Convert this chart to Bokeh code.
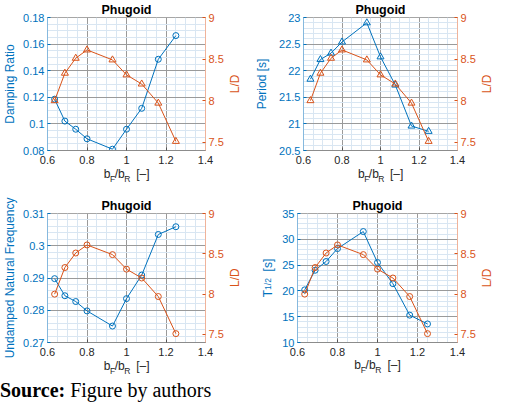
from math import pi
from bokeh.plotting import figure
from bokeh.models import Range1d, LinearAxis, FixedTicker, CustomJSTickFormatter, Div
from bokeh.layouts import column, row
from bokeh.embed import file_html
from bokeh.resources import INLINE

BLUE = "#0072BD"
ORANGE = "#D95319"
FONT = "Liberation Sans"

# ---- data ----
bf_br = [0.636, 0.688, 0.743, 0.8, 0.929, 1.0, 1.077, 1.161, 1.25]
lift_drag = [8.0, 8.33, 8.51, 8.61, 8.49, 8.31, 8.2, 7.97, 7.51]
damping_ratio = [0.1186, 0.1021, 0.0960, 0.0888, 0.0810, 0.0960, 0.1117, 0.1486, 0.1664]
period_s = [21.84, 22.21, 22.33, 22.54, 22.90, 22.26, 21.73, 20.96, 20.86]
nat_freq = [0.2898, 0.2845, 0.2827, 0.2798, 0.2751, 0.2836, 0.2909, 0.3035, 0.3059]
t_half = [20.2, 24.0, 25.7, 28.2, 31.5, 25.5, 21.4, 15.3, 13.6]

x_ticks = [0.6, 0.8, 1.0, 1.2, 1.4]
x_minor = [0.65, 0.7, 0.75, 0.85, 0.9, 0.95, 1.05, 1.1, 1.15, 1.25, 1.3, 1.35]
ld_ticks = [7.5, 8.0, 8.5, 9.0]
damping_ticks = [0.08, 0.10, 0.12, 0.14, 0.16, 0.18]
period_ticks = [20.5, 21.0, 21.5, 22.0, 22.5, 23.0]
freq_ticks = [0.27, 0.28, 0.29, 0.30, 0.31]
thalf_ticks = [10, 15, 20, 25, 30, 35]

TITLE = "Phugoid"
RIGHT_LABEL = "L/D"
XLABEL = [("b", 12, False), ("F", 8.5, True), ("/b", 12, False), ("R", 8.5, True), ("  [–]", 12, False)]
THALF_LABEL = [("T", 12, False), ("1/2", 8.5, True), ("  [s]", 12, False)]

# Arial / Liberation Sans advance widths (em)
CW = {"b": .556, "F": .611, "/": .278, "R": .722, " ": .278, "[": .278, "–": .556,
      "]": .278, "T": .611, "1": .556, "2": .556, "s": .5, "L": .556, "D": .722}


def text_w(t, size):
    return sum(CW.get(c, .556) for c in t) * size


def minors(ticks, n):
    step = (ticks[1] - ticks[0]) / n
    return [ticks[i] + k * step for i in range(len(ticks) - 1) for k in range(1, n)]


def piece_centers(pieces):
    """pixel centres (relative to the middle of the whole label) of main / sub pieces"""
    total = sum(text_w(t, s) for t, s, _ in pieces)
    cum = -total / 2
    main, sub = [], []
    for t, s, is_sub in pieces:
        core = t.strip()
        lead = text_w(t[:len(t) - len(t.lstrip())], s)
        c = cum + lead + text_w(core, s) / 2
        (sub if is_sub else main).append((c, core))
        cum += text_w(t, s)
    return main, sub


fmt_js = "return String(Math.round(tick*10000)/10000);"
lab_js = "return labels[index];"


def text_axis(ticks, labels, size, color, standoff, orientation=None):
    ax = LinearAxis(ticker=FixedTicker(ticks=ticks),
                    formatter=CustomJSTickFormatter(args=dict(labels=labels), code=lab_js))
    ax.axis_line_color = None
    ax.major_tick_line_color = None
    ax.minor_tick_line_color = None
    ax.major_tick_in = 0
    ax.major_tick_out = 0
    ax.minor_tick_in = 0
    ax.minor_tick_out = 0
    ax.major_label_text_font = FONT
    ax.major_label_text_font_size = f"{size}px"
    ax.major_label_text_color = color
    ax.major_label_standoff = standoff
    if orientation is not None:
        ax.major_label_orientation = orientation
    return ax


def panel(width, height, mb, frame_w, frame_h, ylim, yticks, nminor, yvals, lmarker, rmarker,
          ylabel, ylabel_standoff, xl_standoffs, ld_range=(7.4, 9.0)):
    mbl, mbr, mbt, mbb = mb
    p = figure(width=width, height=height, x_range=Range1d(0.6, 1.4),
               y_range=Range1d(*ylim), output_backend="svg", toolbar_location=None,
               title=TITLE, min_border_left=mbl, min_border_right=mbr,
               min_border_top=mbt, min_border_bottom=mbb)
    p.title.align = "center"
    p.title.text_font = FONT
    p.title.text_font_size = "12.5px"
    p.title.text_font_style = "bold"
    p.title.text_color = "#000000"
    p.title.standoff = 1
    p.background_fill_color = "white"
    p.border_fill_color = "white"
    p.outline_line_color = "#a6a6a6"
    p.outline_line_width = 1

    p.extra_y_ranges = {"ld": Range1d(*ld_range)}

    xax = p.xaxis[0]
    yax = p.yaxis[0]
    xax.ticker = FixedTicker(ticks=x_ticks, minor_ticks=x_minor)
    yax.ticker = FixedTicker(ticks=yticks, minor_ticks=minors(yticks, nminor))
    for ax in (xax, yax):
        ax.formatter = CustomJSTickFormatter(code=fmt_js)
        ax.major_label_text_font = FONT
        ax.major_label_text_font_size = "11px"
        ax.major_tick_in = 3
        ax.major_tick_out = 0
        ax.minor_tick_line_color = None
        ax.minor_tick_out = 0
    xax.axis_line_color = "#8c8c8c"
    xax.major_tick_line_color = "#555555"
    xax.major_label_text_color = "#262626"
    xax.major_label_standoff = 5
    yax.axis_line_color = "#86b9de"
    yax.major_tick_line_color = BLUE
    yax.major_label_text_color = BLUE
    yax.major_label_standoff = 3

    rax = LinearAxis(y_range_name="ld", ticker=FixedTicker(ticks=ld_ticks),
                     formatter=CustomJSTickFormatter(code=fmt_js))
    rax.major_label_text_font = FONT
    rax.major_label_text_font_size = "11px"
    rax.major_label_text_color = ORANGE
    rax.axis_line_color = "#f0b39a"
    rax.major_tick_line_color = ORANGE
    rax.major_tick_in = 3
    rax.major_tick_out = 0
    rax.minor_tick_line_color = None
    rax.minor_tick_out = 0
    rax.major_label_standoff = 3
    p.add_layout(rax, "right")

    for g in (p.xgrid, p.ygrid):
        g.grid_line_color = "#9a9a9a"
        g.grid_line_width = 1
        g.minor_grid_line_color = "#d9e6f2"
        g.minor_grid_line_width = 1

    # series
    p.line(bf_br, yvals, line_color=BLUE, line_width=1)
    p.scatter(bf_br, yvals, marker=lmarker, size=6 if lmarker == "circle" else 7,
              line_color=BLUE, fill_color=None, line_width=1)
    p.line(bf_br, lift_drag, line_color=ORANGE, line_width=1, y_range_name="ld")
    p.scatter(bf_br, lift_drag, marker=rmarker, size=6 if rmarker == "circle" else 7,
              line_color=ORANGE, fill_color=None, line_width=1, y_range_name="ld")

    # x label  b_F/b_R [–]  built from two text-only axes
    xs = 0.8 / frame_w
    main, sub = piece_centers(XLABEL)
    p.add_layout(text_axis([1.0 + c * xs for c, _ in main], [t for _, t in main],
                           12, "#262626", xl_standoffs[0]), "below")
    p.add_layout(text_axis([1.0 + c * xs for c, _ in sub], [t for _, t in sub],
                           8.5, "#262626", xl_standoffs[1]), "below")

    # left y label
    ymid = (ylim[0] + ylim[1]) / 2
    ys = (ylim[1] - ylim[0]) / frame_h
    if isinstance(ylabel, str):
        yax.axis_label = ylabel
        yax.axis_label_text_font = FONT
        yax.axis_label_text_font_size = "12px"
        yax.axis_label_text_font_style = "normal"
        yax.axis_label_text_color = BLUE
        yax.axis_label_standoff = ylabel_standoff[0]
    else:
        main, sub = piece_centers(ylabel)
        p.add_layout(text_axis([ymid + c * ys for c, _ in main], [t for _, t in main],
                               12, BLUE, ylabel_standoff[0], "vertical"), "left")
        p.add_layout(text_axis([ymid + c * ys for c, _ in sub], [t for _, t in sub],
                               8.5, BLUE, ylabel_standoff[1], "vertical"), "left")

    # right y label (reads bottom to top, starts at its tick)
    p.add_layout(text_axis([ymid - text_w(RIGHT_LABEL, 12) / 2 * ys], [RIGHT_LABEL],
                           12, ORANGE, 9, pi / 2), "right")
    return p


# layout (px): width, height, (min_border l, r, t, b), frame width, frame height
p1 = panel(252, 190, (41, 43, 15, 40), 168, 135, (0.08, 0.18), damping_ticks, 4, damping_ratio,
           "circle", "triangle", "Damping Ratio", (3,), (0, -10))
p2 = panel(252, 190, (45, 41, 15, 40), 166, 135, (20.5, 23.0), period_ticks, 5, period_s,
           "triangle", "triangle", "Period [s]", (7,), (0, -10))
p3 = panel(252, 189, (41, 43, 22, 32), 168, 135, (0.27, 0.31), freq_ticks, 5, nat_freq,
           "circle", "circle", "Undamped Natural Frequency", (3,), (0, -10))
p4 = panel(252, 189, (45, 41, 23, 37), 166, 129, (10, 35), thalf_ticks, 5, t_half,
           "circle", "circle", THALF_LABEL, (4, -15), (-1, -10))

caption = Div(text='<span style="font-family:\'Liberation Serif\',serif;font-size:20px;'
                   'color:#000;white-space:nowrap"><b>Source:</b> Figure by authors</span>',
              width=504, height=24, styles={"margin": "0", "line-height": "22px"})

layout = column(row(p1, p2), row(p3, p4), caption)
open("out.html", "w").write(file_html(layout, INLINE, title="Phugoid"))
